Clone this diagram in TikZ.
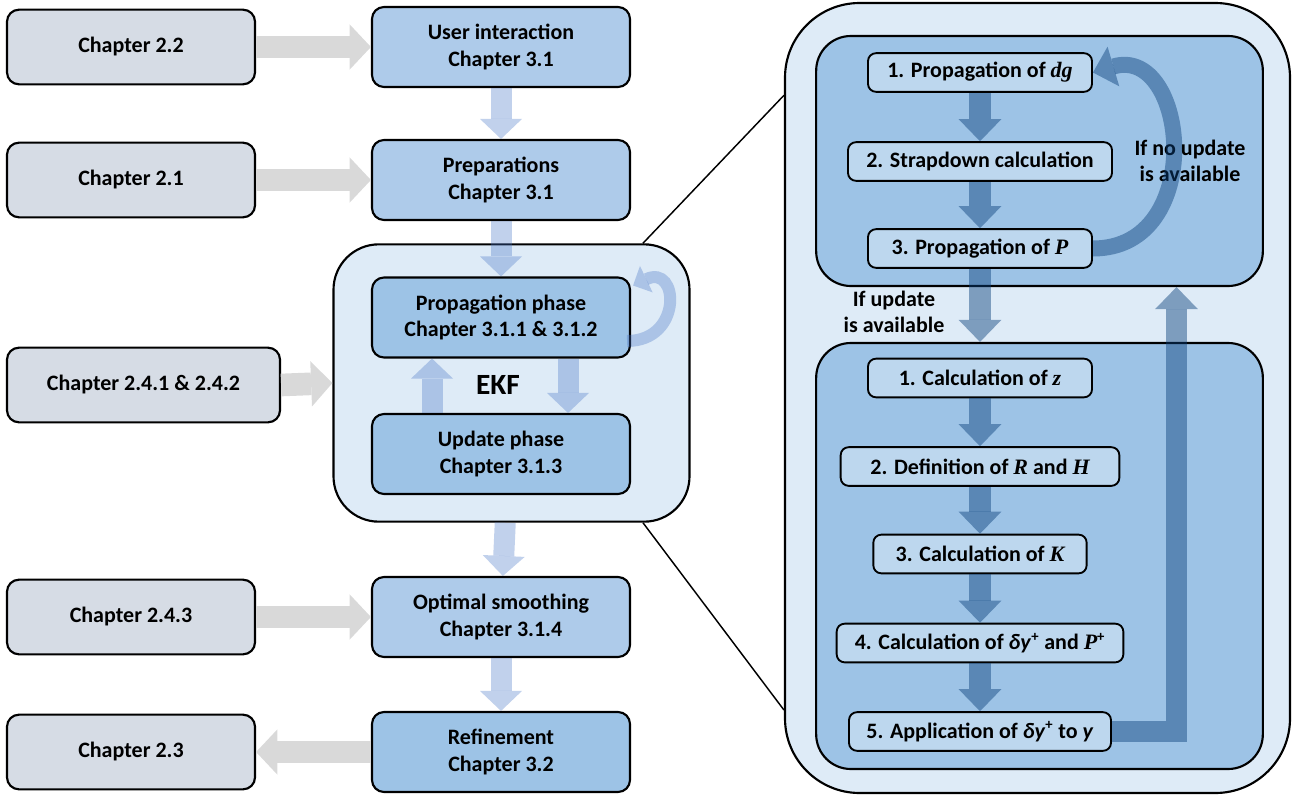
\documentclass[tikz,border=0pt]{standalone}
\usepackage{fontspec}
\setmainfont{Carlito}
\newfontfamily\symfont{Liberation Serif}
\usetikzlibrary{arrows.meta, positioning}

\definecolor{chapgray}{HTML}{D6DCE5}
\definecolor{tasklight}{HTML}{AECBEA}
\definecolor{blockmid}{HTML}{9DC3E6}
\definecolor{panelbg}{HTML}{DEEBF7}
\definecolor{stepfill}{HTML}{BDD7EE}
\definecolor{grayarrow}{HTML}{D9D9D9}
\definecolor{lightarrow}{HTML}{4472C4}
\definecolor{darkarrow}{RGB}{9,63,122}

\newcommand{\sym}[1]{{\symfont\bfseries\itshape #1}}
\newcommand{\plus}{\textsuperscript{\fontsize{11}{11}\selectfont +}}

\begin{document}
\begin{tikzpicture}[
    x=0.75pt, y=-0.75pt,
    every node/.style={font=\bfseries\fontsize{16.5}{20}\selectfont, align=center, inner xsep=3pt},
    block/.style={rectangle, rounded corners=9pt, draw, line width=1.6pt},
    chapter/.style={block, fill=chapgray, minimum width=186pt, minimum height=56pt},
    task/.style={block, fill=tasklight, minimum width=193.5pt, minimum height=60pt},
    phase/.style={task, fill=blockmid},
    panel/.style={block, fill=panelbg},
    stage/.style={block, fill=blockmid, rounded corners=26pt, minimum width=335pt},
    stepbox/.style={block, fill=stepfill, rounded corners=6pt, minimum height=29pt, line width=1.4pt},
    grayflow/.style={grayarrow, line width=17pt, -{Triangle[width=34pt,length=16pt,line width=0pt]}},
    lightflow/.style={lightarrow, opacity=0.33, line width=15.75pt, -{Triangle[width=31.5pt,length=15pt,line width=0pt]}},
    darkflow/.style={darkarrow, opacity=0.45, line width=17pt, -{Triangle[width=32pt,length=16.5pt,line width=0pt]}},
    zoomline/.style={line width=1.1pt}
]
\useasboundingbox (0,0) rectangle (1292,796);

% Chapters of part 2
\node[chapter] (c22) at (131,47) {Chapter 2.2};
\node[chapter] (c21) at (131,180) {Chapter 2.1};
\node[chapter, minimum width=204.75pt] (c24) at (143.5,385) {Chapter 2.4.1 \& 2.4.2};
\node[chapter] (c243) at (131,617) {Chapter 2.4.3};
\node[chapter] (c23) at (131,752) {Chapter 2.3};

% Processing chain
\node[task] (user) at (501,47) {User interaction\\Chapter 3.1};
\node[task] (prep) at (501,180) {Preparations\\Chapter 3.1};
\node[panel, minimum width=267pt, minimum height=208pt, rounded corners=34pt] (ekf) at (511.5,383) {};
\node[phase] (prop) at (501,317.5) {Propagation phase\\Chapter 3.1.1 \& 3.1.2};
\node[phase] (upd) at (501,454) {Update phase\\Chapter 3.1.3};
\node (ekflabel) at (498,385) {\fontsize{22}{26}\selectfont EKF};
\node[task] (smooth) at (501,617) {Optimal smoothing\\Chapter 3.1.4};
\node[phase] (refine) at (501,752) {Refinement\\Chapter 3.2};

% Detail of the EKF
\node[panel, minimum width=378.75pt, minimum height=592.5pt, rounded corners=56pt] (detail) at (1037.5,398) {};
\node[stage, minimum height=187.5pt] (propstage) at (1039.5,161) {};
\node[stage, minimum height=319.5pt] (updstage) at (1039.5,556) {};

\node[stepbox, minimum width=168pt] (p1) at (980,72.5) {1. Propagation of \sym{dg}};
\node[stepbox, minimum width=198pt] (p2) at (980,161.5) {2. Strapdown calculation};
\node[stepbox, minimum width=168pt] (p3) at (980,248.5) {3. Propagation of \sym{P}};
\node (noupd) at (1190,161) {If no update\\is available};
\node (ifupd) at (894,312) {If update\\is available};

\node[stepbox, minimum width=168pt] (u1) at (980,378) {1. Calculation of \sym{z}};
\node[stepbox, minimum width=209pt] (u2) at (980,466.5) {2. Definition of \sym{R} and \sym{H}};
\node[stepbox, minimum width=160pt] (u3) at (980,554) {3. Calculation of \sym{K}};
\node[stepbox, minimum width=215pt] (u4) at (980,643) {4. Calculation of \textit{δy}\plus{} and \sym{P}\plus};
\node[stepbox, minimum width=196.5pt] (u5) at (980,731.5) {5. Application of \textit{δy}\plus{} to \textit{y}};

% Zoom lines
\draw[zoomline] ([xshift=98.6pt]ekf.north) -- ([yshift=227pt]detail.west);
\draw[zoomline] ([xshift=98.6pt]ekf.south) -- ([yshift=-234pt]detail.west);

% Arrows from the chapters
\draw[grayflow] (c22.east) -- (user.west);
\draw[grayflow] (c21.east) -- (prep.west);
\draw[grayflow] (c24.east) -- (ekf.west);
\draw[grayflow] (c243.east) -- (smooth.west);
\draw[grayflow] (refine.west) -- (c23.east);

% Processing flow
\draw[lightflow] (user) -- (prep);
\draw[lightflow] (prep) -- (prop);
\draw[lightflow] (ekf) -- (smooth);
\draw[lightflow] (smooth) -- (refine);
\draw[lightflow] ([xshift=-51.75pt]upd.north) -- ([xshift=-51.75pt]prop.south);
\draw[lightflow] ([xshift=50.25pt]prop.south) -- ([xshift=50.25pt]upd.north);
\draw[lightflow, line width=9pt, -{Triangle[width=22pt,length=11pt,line width=0pt]}]
    ([xshift=-3pt,yshift=-17.6pt]prop.east) .. controls +(56,0) and +(46,-22) .. ([xshift=1.5pt,yshift=24pt]prop.east);

% Steps of the EKF
\draw[darkflow] (p1) -- (p2);
\draw[darkflow] (p2) -- (p3);
\draw[darkflow, line width=12pt, -{Triangle[width=31pt,length=16pt,line width=0pt]}]
    (p3.east) .. controls +(115,0) and +(95,-28) .. (p1.east);
\draw[darkflow] (p3.south) -- (p3.south |- updstage.north);
\draw[darkflow] (u1) -- (u2);
\draw[darkflow] (u2) -- (u3);
\draw[darkflow] (u3) -- (u4);
\draw[darkflow] (u4) -- (u5);
\draw[darkflow, line width=15.75pt] (u5.east) -| ([xshift=102.75pt]propstage.south);

\end{tikzpicture}
\end{document}
